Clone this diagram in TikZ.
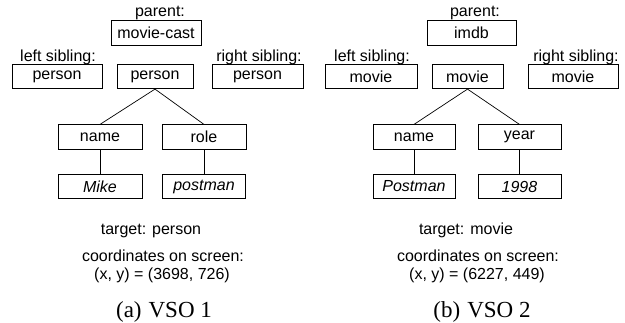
\documentclass[tikz,border=0pt]{standalone}
\usepackage{fontspec}
\setmainfont{Liberation Sans}
\newfontfamily\capfont{Liberation Serif}
\begin{document}
\begin{tikzpicture}[x=1pt,y=-1pt,
  box/.style={draw,line width=0.7pt,minimum height=24.5pt,inner sep=0pt,font=\fontsize{16}{18}\selectfont},
  lbl/.style={anchor=base,inner sep=0pt,font=\fontsize{16}{18}\selectfont},
  captext/.style={anchor=base,inner sep=0pt,font=\capfont\fontsize{23}{26}\selectfont},
  conn/.style={line width=0.7pt}]
\useasboundingbox (0,0) rectangle (625,322);
% ---- left panel ----
\node[lbl] (pl) at (160,16.7) {parent:};
\node[box,minimum width=90pt] (par1) at (156,33) {movie-cast};
\node[lbl] (ll1) at (58,61) {left sibling:};
\node[lbl] (rl1) at (259,61) {right sibling:};
\node[box,minimum width=90pt] (ls1) at (57,76.5) {person};
\node[box,minimum width=76pt] (c1) at (155,76.5) {person};
\node[box,minimum width=91pt] (rs1) at (257.5,76.5) {person};
\node[box,minimum width=84pt] (n1) at (100,137) {name};
\node[box,minimum width=84pt] (r1) at (204,137) {role};
\node[box,minimum width=84pt] (v11) at (100,186.5) {\itshape Mike};
\node[box,minimum width=83pt] (v12) at (204,186.5) {\itshape postman};
\draw[conn] (c1.south) -- (n1.north);
\draw[conn] (c1.south) -- (r1.north);
\draw[conn] (n1.south) -- (v11.north);
\draw[conn] (r1.south) -- (v12.north);
\node[lbl] (t1) at (151,234) {target: person};
\node[lbl] (co1) at (163,261) {coordinates on screen:};
\node[lbl] (xy1) at (162,279) {(x, y) = (3698, 726)};
\node[captext] (ca) at (164,317) {(a)\hspace{7pt}VSO 1};
% ---- right panel ----
\node[lbl] (pr) at (475,16.7) {parent:};
\node[box,minimum width=89pt] (par2) at (471.5,33) {imdb};
\node[lbl] (ll2) at (372,61) {left sibling:};
\node[lbl] (rl2) at (576,61) {right sibling:};
\node[box,minimum width=92pt] (ls2) at (371,76.5) {movie};
\node[box,minimum width=71pt] (c2) at (467.5,76.5) {movie};
\node[box,minimum width=90pt] (rs2) at (573,76.5) {movie};
\node[box,minimum width=82pt] (n2) at (414,137) {name};
\node[box,minimum width=83pt] (y2) at (519.5,137) {year};
\node[box,minimum width=82pt] (v21) at (414,186.5) {\itshape Postman};
\node[box,minimum width=83pt] (v22) at (519.5,186.5) {\itshape 1998};
\draw[conn] (c2.south) -- (n2.north);
\draw[conn] (c2.south) -- (y2.north);
\draw[conn] (n2.south) -- (v21.north);
\draw[conn] (y2.south) -- (v22.north);
\node[lbl] (t2) at (466,234) {target: movie};
\node[lbl] (co2) at (478,261) {coordinates on screen:};
\node[lbl] (xy2) at (477,279) {(x, y) = (6227, 449)};
\node[captext] (cb) at (482,317) {(b)\hspace{7pt}VSO 2};
\end{tikzpicture}
\end{document}
